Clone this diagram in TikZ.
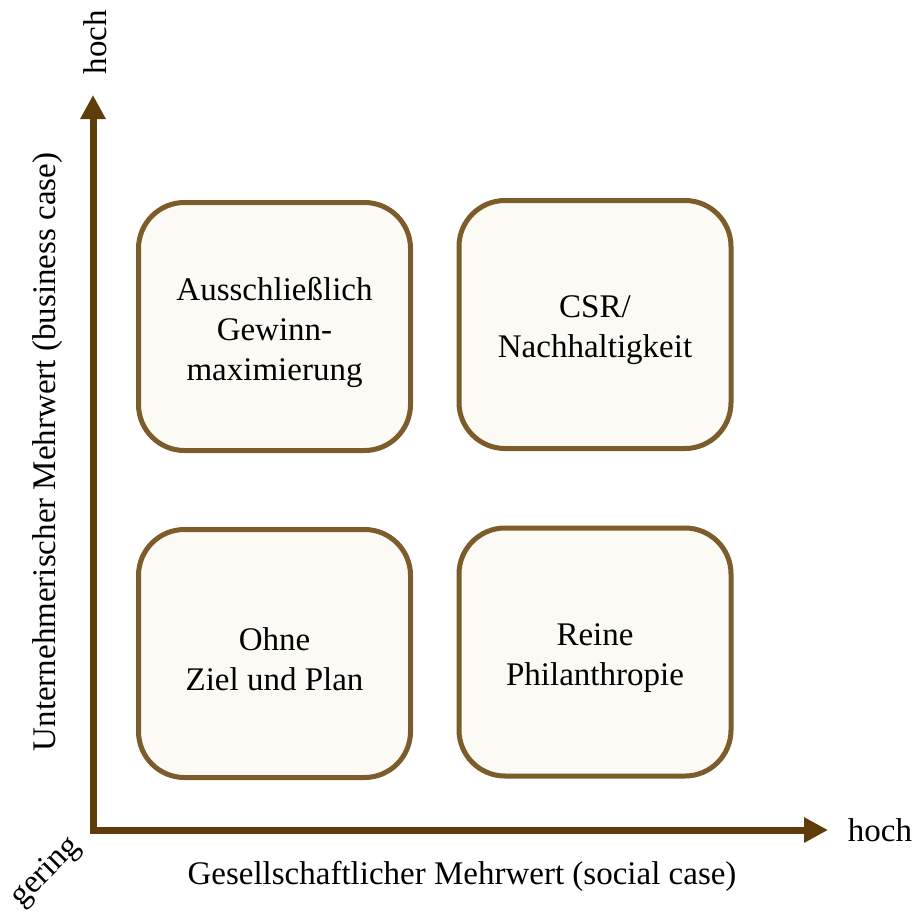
\documentclass[tikz,border=0pt]{standalone}
\usepackage{fontspec}
\setmainfont{Liberation Serif}
\usetikzlibrary{arrows.meta}

\definecolor{axisbrown}{HTML}{5E3D0B}
\definecolor{boxbrown}{HTML}{7B5C2A}
\definecolor{boxfill}{HTML}{FBFAF4}

\tikzset{
    feld/.style={draw=boxbrown, fill=boxfill, line width=2.5pt, rounded corners=23pt,
        minimum width=136pt, minimum height=124pt, inner sep=0pt},
    feldtext/.style={align=center, inner sep=0pt, yshift=-3pt},
    achse/.style={draw=axisbrown, line width=3.5pt, line join=miter,
        {Triangle[length=12pt,width=12pt]}-{Triangle[length=12pt,width=12pt]}},
    beschriftung/.style={inner sep=0pt}
}

\begin{document}
\begin{tikzpicture}[x=0.5pt, y=-0.5pt, font=\fontsize{16.5}{20}\selectfont]
    \useasboundingbox (0,0) rectangle (914,910);

    % Achsen
    \coordinate (Ytip) at (93,95);
    \coordinate (O) at (93,830);
    \coordinate (Xtip) at (828,830);
    \draw[achse] (Ytip) -- (O) -- (Xtip);

    % Die vier Felder
    \node[feld] (gewinn) at (274.5,326.5) {};
    \node[feld] (csr) at (595,324.5) {};
    \node[feld] (ohne) at (274.5,653.5) {};
    \node[feld] (phil) at (595,652) {};

    % Texte in den Feldern
    \node[feldtext] (gewinntext) at (gewinn.center) {Ausschließlich\\Gewinn-\\maximierung};
    \node[feldtext] (csrtext) at (csr.center) {CSR/\\Nachhaltigkeit};
    \node[feldtext] (ohnetext) at (ohne.center) {Ohne\\Ziel und Plan};
    \node[feldtext] (philtext) at (phil.center) {Reine\\Philanthropie};

    % Beschriftungen der Achsen
    \node[beschriftung, rotate=90] (yhoch) at (95,42) {hoch};
    \node[beschriftung] (xhoch) at (880,830) {hoch};
    \node[beschriftung, rotate=45] (gering) at (46,872) {gering};
    \node[beschriftung, rotate=90] (ylabel) at (48,452) {Unternehmerischer Mehrwert (business case)};
    \node[beschriftung] (xlabel) at (462,876) {Gesellschaftlicher Mehrwert (social case)};

\end{tikzpicture}
\end{document}
